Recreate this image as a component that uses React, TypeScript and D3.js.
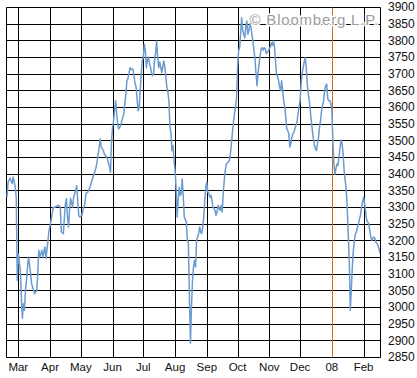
import React from "react";
import * as d3 from "d3";

const START_DATE = new Date(2007, 1, 17);
const END_DATE = new Date(2008, 1, 17);

const monthLabels = ["Mar", "Apr", "May", "Jun", "Jul", "Aug", "Sep", "Oct", "Nov", "Dec", "08", "Feb"];
const yTicks = [2850, 2900, 2950, 3000, 3050, 3100, 3150, 3200, 3250, 3300, 3350, 3400, 3450, 3500, 3550, 3600, 3650, 3700, 3750, 3800, 3850, 3900];

// day offsets from START_DATE
const days = [
  1, 2, 4, 6, 7, 9, 10, 11, 12, 14, 15, 16, 17, 18, 19, 20, 21, 22, 24, 25, 26, 28, 30, 31, 32, 33, 35, 36, 38, 39,
  41, 42, 44, 46, 48, 51, 53, 54, 56, 57, 58, 59, 60, 61, 62, 63, 65, 66, 67, 68, 69, 70, 71, 72, 74, 75, 77, 78, 80, 82,
  84, 86, 87, 88, 90, 91, 92, 93, 95, 96, 98, 99, 101, 102, 103, 104, 105, 106, 107, 108, 109, 110, 112, 113, 115,
  116, 117, 118, 119, 120, 121, 122, 123, 124, 125,
  126, 127, 128, 129, 130, 131, 132, 133, 134, 135,
  136, 137, 138, 139, 140, 141, 142, 143, 144, 145,
  146, 147, 148, 149, 150, 151, 152, 153, 154, 155,
  156, 157, 158, 159, 160, 161, 162, 163, 164, 165,
  166, 167, 168, 169, 170, 171, 172, 173, 174, 175,
  176, 177, 178, 179, 180, 181, 182, 183, 184, 185,
  186, 187, 188, 189, 190, 191, 192, 193, 194, 195,
  196, 197, 198, 199, 200, 201, 202, 203, 204, 205,
  206, 207, 208, 209, 210, 211, 212, 213, 214, 215,
  216, 217, 218, 219, 220, 221, 222, 223, 224, 225,
  226, 227, 228, 229, 230, 231, 232, 233, 234, 235,
  236, 237, 238, 239, 240, 241, 242, 243, 244, 245,
  246, 247, 248, 249, 250, 251, 252, 253, 254, 255,
  256, 257, 258, 259, 260, 261, 262, 263, 264, 265,
  266, 267, 268, 269, 270, 271, 272, 273, 274, 275,
  276, 277, 278, 279, 280, 281, 282, 283, 284, 285,
  286, 287, 288, 289, 290, 291, 292, 293, 294, 295,
  296, 297, 298, 299, 300, 301, 302, 303, 304, 305,
  306, 307, 308, 309, 310, 311, 312, 313, 314, 315,
  316, 317, 318, 319, 320, 321, 322, 323, 324, 325,
  326, 327, 328, 329, 330, 331, 332, 333, 334, 335,
  336, 337, 338, 339, 340, 341, 342, 343, 344, 345,
  346, 347, 348, 349, 350, 351, 352, 353, 354, 355,
  356, 357, 358, 359, 360, 361, 362, 363, 364, 365,
];

const closes = [
  3330, 3374, 3387, 3370, 3390, 3360, 3330, 3080, 3160, 3110, 3030, 2966, 3010, 2990, 3050, 3080, 3120, 3150, 3100, 3070, 3060, 3040, 3050, 3100, 3170, 3150, 3170, 3150, 3180, 3146,
  3200, 3230, 3260, 3298, 3300, 3305, 3300, 3225, 3220, 3270, 3310, 3325, 3270, 3240, 3290, 3326, 3300, 3330, 3340, 3350, 3364, 3320, 3275, 3270, 3275, 3290, 3310, 3340, 3345, 3359,
  3380, 3400, 3409, 3420, 3459, 3480, 3504, 3479, 3470, 3459, 3450, 3444, 3420, 3404, 3499, 3540, 3559, 3590, 3619, 3579, 3550, 3534, 3545, 3559, 3580,
  3610, 3640, 3679, 3685, 3700, 3718, 3712, 3715, 3712, 3690,
  3669, 3660, 3620, 3589, 3600, 3650, 3700, 3738, 3750, 3788,
  3770, 3718, 3740, 3750, 3730, 3720, 3703, 3694, 3700, 3740,
  3763, 3798, 3750, 3718, 3735, 3720, 3703, 3720, 3738, 3720,
  3690, 3659, 3645, 3620, 3540, 3520, 3469, 3484, 3440, 3409,
  3359, 3270, 3320, 3359, 3335, 3340, 3384, 3330, 3270, 3262,
  3255, 3200, 3190, 3030, 2891, 3000, 3080, 3120, 3140, 3120,
  3200, 3210, 3220, 3240, 3225, 3220, 3240, 3270, 3320, 3360,
  3374, 3345, 3340, 3329, 3335, 3320, 3300, 3295, 3290, 3275,
  3285, 3305, 3295, 3290, 3305, 3285, 3340, 3380, 3410, 3429,
  3432, 3435, 3439, 3460, 3490, 3525, 3555, 3580, 3600, 3625,
  3718, 3768, 3778, 3820, 3868, 3830, 3818, 3808, 3840, 3858,
  3818, 3830, 3850, 3840, 3818, 3795, 3770, 3743, 3700, 3664,
  3700, 3730, 3753, 3775, 3778, 3770, 3778, 3775, 3760, 3765,
  3768, 3775, 3780, 3793, 3785, 3798, 3780, 3740, 3699, 3690,
  3679, 3660, 3649, 3679, 3650, 3619, 3600, 3570, 3535, 3529,
  3520, 3480, 3490, 3509, 3520, 3524, 3535, 3545, 3555, 3579,
  3600, 3619, 3670, 3700, 3718, 3735, 3748, 3720, 3669, 3640,
  3619, 3589, 3555, 3530, 3505, 3485, 3475, 3469, 3490, 3509,
  3540, 3560, 3589, 3605, 3620, 3650, 3665, 3669, 3625, 3619,
  3619, 3612, 3590, 3499, 3430, 3399, 3415, 3429, 3425, 3450,
  3479, 3500, 3490, 3460, 3409, 3380, 3355, 3300, 3220, 3140,
  2990, 3050, 3120, 3170, 3200, 3220, 3225, 3240, 3250, 3265,
  3275, 3300, 3315, 3329, 3310, 3285, 3260, 3255, 3250, 3230,
  3210, 3200, 3205, 3210, 3205, 3195, 3190, 3185, 3175, 3161,
];

const W = 417;
const H = 378;
const PL = 6;
const PR = 380;
const PT = 7;
const PB = 357;

const snap = (v: number) => Math.round(v) + 0.5;

export default function App() {
  const x = d3.scaleTime().domain([START_DATE, END_DATE]).range([PL, PR]);
  const y = d3.scaleLinear().domain([2850, 3900]).range([PB, PT]);

  const data = days.map((d, i) => ({ date: d3.timeDay.offset(START_DATE, d), v: closes[i] }));
  const line = d3
    .line<{ date: Date; v: number }>()
    .x((d) => x(d.date))
    .y((d) => y(d.v));

  const months = d3.timeMonth.range(new Date(2007, 2, 1), new Date(2008, 1, 2));

  return (
    <svg
      width={W}
      height={H}
      style={{ position: "absolute", left: 0, top: 0, background: "#fff" }}
      fontFamily="'Liberation Sans', Arial, sans-serif"
    >
      <rect x={0} y={0} width={W} height={H} fill="#fff" />
      <defs>
        <clipPath id="plot">
          <rect x={PL} y={PT} width={PR - PL} height={PB - PT} />
        </clipPath>
      </defs>
      <g strokeWidth={1}>
        {yTicks.map((t) => (
          <line key={"h" + t} x1={snap(PL)} x2={snap(PR)} y1={snap(y(t))} y2={snap(y(t))} stroke="#000" />
        ))}
        {months.map((m, i) => (
          <line
            key={"v" + i}
            x1={snap(x(m))}
            x2={snap(x(m))}
            y1={snap(PT)}
            y2={snap(PB)}
            stroke={monthLabels[i] === "08" ? "#d2691e" : "#000"}
          />
        ))}
        <line x1={snap(PL)} x2={snap(PL)} y1={snap(PT)} y2={snap(PB)} stroke="#000" />
        <line x1={snap(PR)} x2={snap(PR)} y1={snap(PT)} y2={snap(PB)} stroke="#000" />
      </g>
      <text
        x={379}
        y={25}
        textAnchor="end"
        fontSize={15}
        letterSpacing={0.8}
        fill="#9c9c9c"
        stroke="#fff"
        strokeWidth={3}
        style={{ paintOrder: "stroke" }}
      >
        © Bloomberg L.P.
      </text>
      <path d={line(data) || ""} fill="none" stroke="#6c9bcf" strokeWidth={1.5} clipPath="url(#plot)" strokeLinejoin="round" />
      {yTicks.map((t) => (
        <text key={"yl" + t} x={388} y={y(t)} dy="0.35em" fontSize={12} fill="#111">
          {t}
        </text>
      ))}
      {months.map((m, i) => (
        <text key={"ml" + i} x={x(m)} y={370.5} textAnchor="middle" fontSize={11.5} fill="#111">
          {monthLabels[i]}
        </text>
      ))}
    </svg>
  );
}
